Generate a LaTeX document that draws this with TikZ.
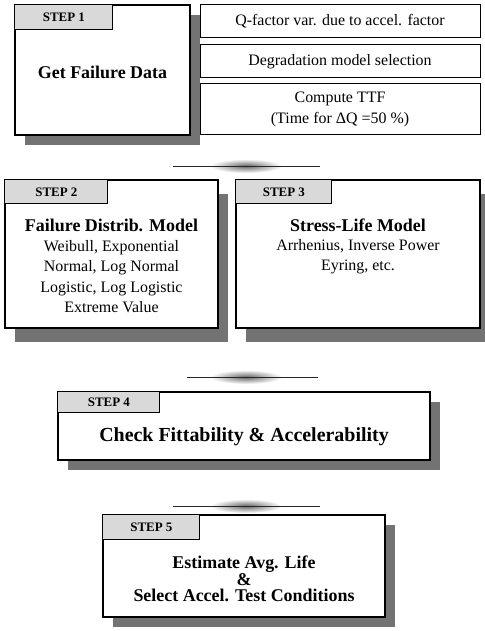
\documentclass[tikz,border=0pt]{standalone}
\usepackage{fontspec}
\setmainfont{Liberation Serif}
\usetikzlibrary{shadows,shapes.geometric}

\begin{document}
\begin{tikzpicture}[x=1bp,y=-1bp,
    stepbox/.style={draw,line width=1.2bp,fill=white,inner sep=0pt},
    shadowbox/.style={drop shadow={shadow xshift=10bp,shadow yshift=-10bp,opacity=1,fill=black!55}},
    steptab/.style={draw,line width=1bp,fill=black!15,inner sep=0pt,anchor=north west,
        font=\fontsize{13}{13}\selectfont\bfseries},
    sidebox/.style={draw,line width=1bp,fill=white,inner sep=0pt,minimum width=280bp},
    title/.style={font=\fontsize{18}{18}\selectfont\bfseries,align=center},
    body/.style={font=\fontsize{16}{20.5}\selectfont,align=center},
    link/.style={line width=0.7bp,black!85},
    blob/.style={ellipse,minimum width=72bp,minimum height=14bp,inner sep=0pt,
        inner color=black!60,outer color=white}]
\useasboundingbox (0,0) rectangle (485,631);

% step 1
\node[stepbox,shadowbox,minimum width=175bp,minimum height=130bp] (s1) at (102.5,70) {};
\node[steptab,minimum width=98bp,minimum height=25bp] (t1) at (s1.north west) {STEP 1};
\node[title] (s1t) at (102.5,72) {Get Failure Data};
\node[sidebox,minimum height=33bp,body] (qf) at (340,21.5) {Q-factor var. due to accel. factor};
\node[sidebox,minimum height=33bp,body] (dm) at (340,61.5) {Degradation model selection};
\node[sidebox,minimum height=51bp,body] (tf) at (340,109.5) {Compute TTF\\(Time for ΔQ =50 \%)};

% link 1
\node[blob] (b1) at (246,166) {};
\coordinate (l1a) at (173,166);
\coordinate (l1b) at (320,166);
\draw[link] (l1a) -- (l1b);

% step 2 and step 3
\node[stepbox,drop shadow={shadow xshift=10bp,shadow yshift=-14bp,opacity=1,fill=black!55},
    minimum width=213bp,minimum height=148bp] (s2) at (111.5,254) {};
\node[steptab,minimum width=103bp,minimum height=24bp] (t2) at (s2.north west) {STEP 2};
\node[title] (s2t) at (111.5,225) {Failure Distrib. Model};
\node[body] (s2b) at (111.5,276.5) {Weibull, Exponential\\Normal, Log Normal\\Logistic, Log Logistic\\Extreme Value};
\node[stepbox,drop shadow={shadow xshift=10bp,shadow yshift=-14bp,opacity=1,fill=black!55},
    minimum width=244bp,minimum height=148bp] (s3) at (358,254) {};
\node[steptab,minimum width=96bp,minimum height=24bp] (t3) at (s3.north west) {STEP 3};
\node[title] (s3t) at (358,225) {Stress-Life Model};
\node[body] (s3b) at (358,256.5) {Arrhenius, Inverse Power\\Eyring, etc.};

% link 2
\node[blob] (b2) at (246,377) {};
\coordinate (l2a) at (187,377);
\coordinate (l2b) at (318,377);
\draw[link] (l2a) -- (l2b);

% step 4
\node[stepbox,shadowbox,minimum width=372bp,minimum height=68bp] (s4) at (244,426) {};
\node[steptab,minimum width=102bp,minimum height=21bp] (t4) at (s4.north west) {STEP 4};
\node[title,font=\fontsize{20}{20}\selectfont\bfseries] (s4t) at (244,437) {Check Fittability \& Accelerability};

% link 3
\node[blob] (b3) at (246,506) {};
\coordinate (l3a) at (173,506);
\coordinate (l3b) at (320,506);
\draw[link] (l3a) -- (l3b);

% step 5
\node[stepbox,shadowbox,minimum width=282bp,minimum height=102bp] (s5) at (244,566) {};
\node[steptab,minimum width=97bp,minimum height=25bp] (t5) at (s5.north west) {STEP 5};
\node[title,font=\fontsize{18}{16.5}\selectfont\bfseries] (s5t) at (244,579) {Estimate Avg. Life\\\&\\Select Accel. Test Conditions};
\end{tikzpicture}
\end{document}
